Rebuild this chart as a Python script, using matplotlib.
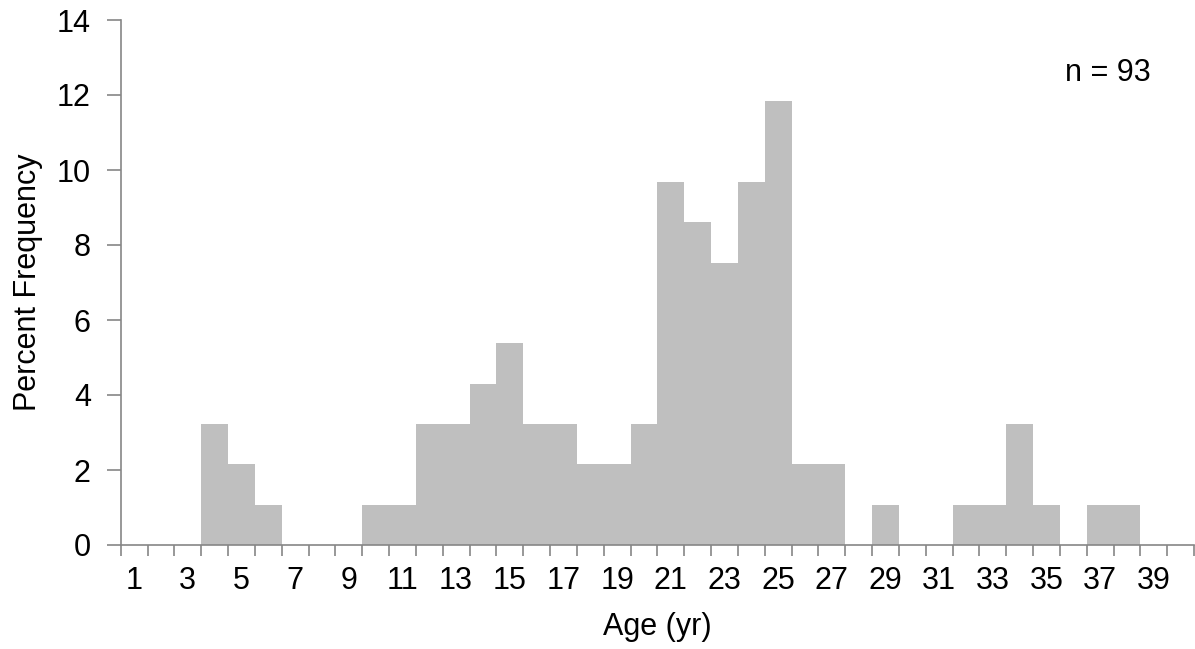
import matplotlib
matplotlib.use("Agg")
import matplotlib.pyplot as plt
import numpy as np

plt.rcParams['font.family'] = ['Liberation Sans', 'DejaVu Sans']

ages = list(range(1, 41))
counts = [0, 0, 0, 3, 2, 1, 0, 0, 0, 1,
          1, 3, 3, 4, 5, 3, 3, 2, 2, 3,
          9, 8, 7, 9, 11, 2, 2, 0, 1, 0,
          0, 1, 1, 3, 1, 0, 1, 1, 0, 0]
n_total = 93
percent = [c / n_total * 100 for c in counts]
tick_labels = [str(a) for a in range(1, 40, 2)]

FS = 22

fig = plt.figure(figsize=(11.95, 6.49), dpi=100)
ax = fig.add_axes([120.7 / 1195, 1 - 545 / 649, (1194 - 120.7) / 1195, (545 - 20) / 649])

ax.bar(ages, percent, width=1.0, color='#BFBFBF', linewidth=0, zorder=2)

ax.set_xlim(0.5, 40.5)
ax.set_ylim(0, 14)

axis_col = '#868686'
for s in ['top', 'right']:
    ax.spines[s].set_visible(False)
for s in ['left', 'bottom']:
    ax.spines[s].set_color(axis_col)
    ax.spines[s].set_linewidth(1.2)
    ax.spines[s].set_zorder(3)

ax.set_yticks(np.arange(0, 15, 2))
ax.tick_params(axis='y', direction='out', length=10, width=1.2, color=axis_col,
               labelsize=FS, pad=11.5)

ax.set_xticks(list(range(1, 40, 2)))
ax.set_xticklabels(tick_labels)
ax.set_xticks(np.arange(0.5, 41, 1), minor=True)
ax.tick_params(axis='x', which='major', length=0, labelsize=FS, pad=15)
ax.tick_params(axis='x', which='minor', direction='out', length=8, width=1.2, color=axis_col)

ax.set_xlabel('Age (yr)', fontsize=FS)
ax.set_ylabel('Percent Frequency', fontsize=FS)
ax.yaxis.set_label_coords((42.5 - 120.7) / 1073.3, 0.5)
ax.xaxis.set_label_coords(0.5, (545 - 612) / 525)

fig.text(1108 / 1195, 1 - 73 / 649, 'n = 93', fontsize=FS, ha='center', va='center')

fig.savefig('out.png', dpi=100)
